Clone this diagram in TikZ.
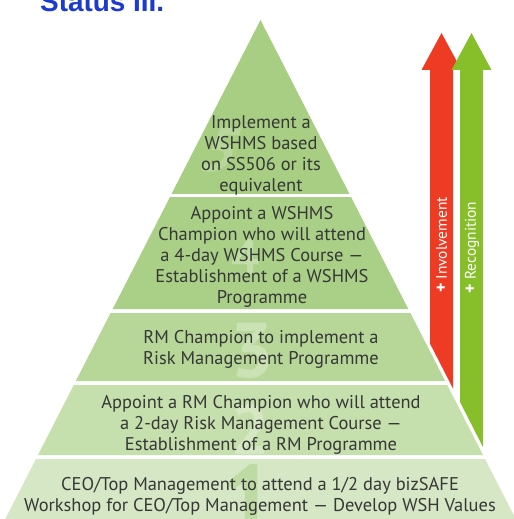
\documentclass[tikz,border=0pt]{standalone}
\usepackage{fontspec}
\setmainfont{PT Sans}
\newfontfamily\titlefont{Liberation Sans}
\definecolor{tierA}{RGB}{213,231,196}
\definecolor{tierB}{RGB}{197,223,173}
\definecolor{tierC}{RGB}{183,215,153}
\definecolor{tierD}{RGB}{170,208,135}
\definecolor{tierE}{RGB}{167,206,130}
\definecolor{digitone}{RGB}{190,219,163}
\definecolor{txtgray}{RGB}{55,55,55}
\definecolor{arrred}{RGB}{238,59,35}
\definecolor{arrgreen}{RGB}{134,191,42}
\definecolor{titleblue}{RGB}{28,58,204}
\begin{document}
\begin{tikzpicture}[x=1bp,y=-1bp,
  tiertext/.style={font=\fontsize{18.5}{21}\selectfont, text=txtgray, align=center, inner sep=0pt},
  arrtext/.style={font=\fontsize{15.5}{15.5}\selectfont, text=white, rotate=90, inner sep=0pt},
  wmark/.style={text=white, opacity=0.28, inner sep=0pt, font=\bfseries}]
\useasboundingbox (0,0) rectangle (514,519);
\clip (0,0) rectangle (514,519);
\fill[white] (0,0) rectangle (514,519);
% title (cut off at top)
\node[anchor=base west, inner sep=0pt, text=titleblue, font=\titlefont\bfseries\fontsize{28}{28}\selectfont] (title) at (40,12) {Status III.};
% pyramid tiers
\fill[tierE] (260.5,20) -- (349.5,194) -- (171.5,194) -- cycle;
\fill[tierD] (170.0,197) -- (351.0,197) -- (408.3,309) -- (112.7,309) -- cycle;
\fill[tierC] (110.6,313) -- (410.4,313) -- (445.2,381) -- (75.8,381) -- cycle;
\fill[tierB] (73.8,385) -- (447.2,385) -- (483.0,455) -- (38.0,455) -- cycle;
\fill[tierA] (36.0,459) -- (485.0,459) -- (518.8,525) -- (2.2,525) -- cycle;
% watermark digits
\node[wmark, font=\bfseries\fontsize{62}{62}\selectfont, xslant=0.4, opacity=0.2] (d5) at (222,150) {5};
\node[wmark, font=\bfseries\fontsize{50}{50}\selectfont] (d4) at (246,257) {4};
\node[wmark, font=\bfseries\fontsize{78}{78}\selectfont] (d3) at (253,351) {3};
\node[wmark, font=\bfseries\fontsize{70}{70}\selectfont] (d2) at (250,430) {2};
\node[inner sep=0pt, text=digitone, font=\bfseries\fontsize{100}{100}\selectfont] (d1) at (250,500) {1};
% arrows
\fill[arrred] (421.5,70) -- (441.5,33) -- (461.5,70) -- (453,70) -- (453,388.5) -- (430,343.6) -- (430,70) -- cycle;
\fill[arrgreen] (451.5,70) -- (471.5,33) -- (491.5,70) -- (483,70) -- (483,447) -- (460,402) -- (460,70) -- cycle;
\node[arrtext] (inv) at (441.5,245) {{\bfseries\fontsize{18}{18}\selectfont +} Involvement};
\node[arrtext] (rec) at (472,247.5) {{\bfseries\fontsize{18}{18}\selectfont +} Recognition};
% tier texts
\node[tiertext] (t5) at (261,155.5) {Implement a\\WSHMS based\\on SS506 or its\\equivalent};
\node[tiertext] (t4) at (262,257) {Appoint a WSHMS\\Champion who will attend\\a 4-day WSHMS Course ---\\Establishment of a WSHMS\\Programme};
\node[tiertext] (t3) at (261,349.5) {RM Champion to implement a\\Risk Management Programme};
\node[tiertext] (t2) at (261,424.5) {Appoint a RM Champion who will attend\\a 2-day Risk Management Course ---\\Establishment of a RM Programme};
\node[tiertext] (t1) at (260,496) {CEO/Top Management to attend a 1/2 day bizSAFE\\Workshop for CEO/Top Management --- Develop WSH Values};
\end{tikzpicture}
\end{document}
